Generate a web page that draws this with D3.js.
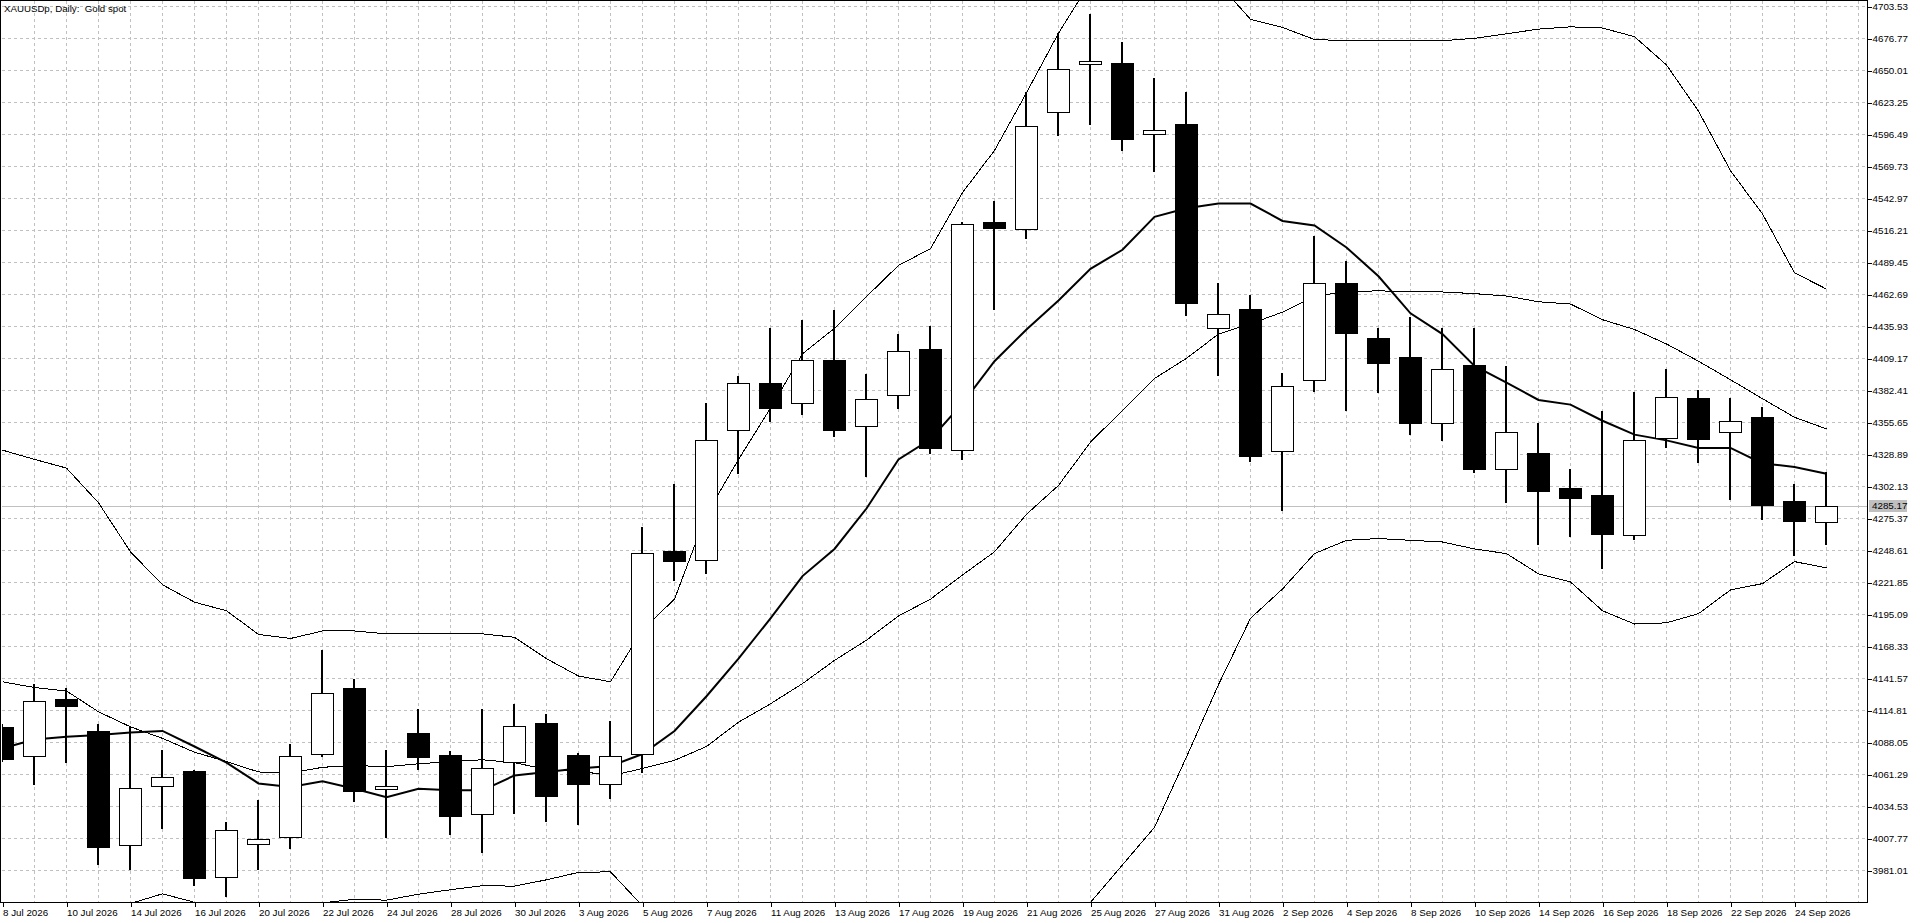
<!DOCTYPE html>
<html>
<head>
<meta charset="utf-8">
<script src="https://cdn.jsdelivr.net/npm/d3@7"></script>
<style>
  html, body { margin: 0; padding: 0; background: #ffffff; }
  svg { display: block; }
  text { font-family: "Liberation Sans", Arial, sans-serif; fill: #000; }
</style>
</head>
<body>
<svg id="chart" width="1920" height="923"></svg>
<script>
// ---------------- data ----------------
const title = "XAUUSDp, Daily:  Gold spot";

const dates = [
  "8 Jul 2026","9 Jul 2026","10 Jul 2026","13 Jul 2026","14 Jul 2026","15 Jul 2026","16 Jul 2026","17 Jul 2026",
  "20 Jul 2026","21 Jul 2026","22 Jul 2026","23 Jul 2026","24 Jul 2026","27 Jul 2026","28 Jul 2026","29 Jul 2026",
  "30 Jul 2026","31 Jul 2026","3 Aug 2026","4 Aug 2026","5 Aug 2026","6 Aug 2026","7 Aug 2026","10 Aug 2026",
  "11 Aug 2026","12 Aug 2026","13 Aug 2026","14 Aug 2026","17 Aug 2026","18 Aug 2026","19 Aug 2026","20 Aug 2026",
  "21 Aug 2026","24 Aug 2026","25 Aug 2026","26 Aug 2026","27 Aug 2026","28 Aug 2026","31 Aug 2026","1 Sep 2026",
  "2 Sep 2026","3 Sep 2026","4 Sep 2026","7 Sep 2026","8 Sep 2026","9 Sep 2026","10 Sep 2026","11 Sep 2026",
  "14 Sep 2026","15 Sep 2026","16 Sep 2026","17 Sep 2026","18 Sep 2026","21 Sep 2026","22 Sep 2026","23 Sep 2026",
  "24 Sep 2026","25 Sep 2026"
];

const open = [
  4100.7,4075.6,4123.9,4096.9,4002.7,4051.4,4064.0,3975.2,4002.7,4008.0,
  4078.0,4133.6,4048.5,4095.4,4077.5,4027.8,4070.8,4104.1,4077.5,4052.4,
  4078.0,4247.5,4240.3,4349.0,4388.1,4371.7,4407.4,4352.3,4378.0,4416.6,
  4332.1,4523.3,4517.1,4614.6,4654.3,4655.7,4596.3,4604.5,4434.5,4449.9,
  4331.6,4391.0,4471.7,4425.8,4409.8,4354.8,4403.5,4316.6,4329.6,4300.2,
  4294.4,4260.6,4342.2,4375.5,4347.5,4360.1,4290.0,4272.2
];
const high = [
  4103.0,4136.9,4133.6,4103.1,4101.7,4081.4,4065.0,4021.4,4039.9,4086.6,
  4165.0,4140.8,4081.4,4115.7,4080.4,4115.7,4119.5,4111.3,4078.5,4106.0,
  4267.8,4304.0,4371.2,4393.9,4434.5,4441.2,4449.0,4395.8,4429.2,4435.9,
  4523.3,4540.7,4632.0,4680.8,4696.8,4673.6,4643.1,4631.5,4471.7,4461.5,
  4396.8,4510.8,4490.5,4434.5,4443.6,4434.0,4434.5,4402.1,4355.2,4316.6,
  4364.9,4380.4,4400.2,4382.8,4376.0,4368.3,4303.6,4313.7
];
const low = [
  4071.0,4052.4,4070.8,3984.8,3981.4,4015.2,3967.4,3958.2,3981.4,3998.3,
  4075.6,4037.9,4008.0,4064.5,4009.9,3995.4,4027.8,4021.0,4018.6,4040.4,
  4062.5,4222.9,4228.2,4312.3,4355.7,4361.5,4342.7,4309.4,4366.4,4328.7,
  4323.9,4449.0,4508.9,4594.8,4604.0,4582.3,4564.4,4444.1,4394.4,4321.9,
  4281.4,4380.4,4364.9,4379.9,4345.1,4339.8,4313.2,4288.1,4252.9,4259.1,
  4233.1,4256.7,4333.5,4321.4,4290.5,4273.6,4243.2,4252.9
];
const close = [
  4074.2,4122.0,4118.1,3999.8,4050.0,4058.7,3974.7,4014.2,4006.6,4076.1,
  4128.7,4047.6,4051.4,4075.6,4026.8,4065.9,4101.2,4042.8,4053.4,4076.1,
  4246.1,4238.8,4340.8,4388.1,4367.3,4407.4,4349.0,4374.6,4415.1,4333.5,
  4521.4,4518.5,4603.5,4650.9,4657.2,4592.4,4599.7,4455.2,4446.1,4327.2,
  4385.7,4471.7,4429.6,4404.5,4354.3,4400.2,4316.6,4347.5,4297.8,4292.0,
  4262.0,4340.3,4376.5,4341.3,4356.7,4286.2,4273.6,4285.17
];

// thick moving average
const maLine = [
  4082.8,4090.1,4092.5,4094.0,4095.9,4097.3,4084.3,4070.8,4053.4,4050.5,
  4055.3,4049.0,4041.8,4049.0,4047.6,4047.6,4060.1,4063.0,4065.9,4067.9,
  4078.0,4097.3,4126.3,4157.7,4191.5,4226.8,4249.5,4283.3,4324.3,4341.2,
  4371.2,4406.5,4433.0,4457.2,4483.7,4499.7,4527.2,4534.4,4538.3,4538.3,
  4523.8,4520.0,4501.6,4477.5,4446.5,4429.2,4402.6,4388.6,4374.1,4370.2,
  4356.7,4345.1,4340.3,4334.0,4334.0,4321.0,4318.1,4312.3
];
// Bollinger bands
const bbUpper = [
  4332.1,4324.4,4317.1,4288.1,4247.1,4219.5,4205.0,4197.8,4178.0,4174.6,
  4180.9,4180.9,4178.5,4179.0,4178.5,4178.5,4175.6,4157.7,4143.2,4138.4,
  4181.9,4207.5,4278.5,4324.3,4367.3,4412.7,4434.0,4460.5,4486.6,4500.6,
  4547.5,4582.7,4631.0,4680.8,4723.7,4745.5,4767.3,4742.2,4722.4,4692.4,
  4685.6,4675.5,4674.5,4674.5,4674.5,4674.5,4676.5,4680.3,4684.2,4686.1,
  4685.1,4677.9,4654.2,4615.6,4565.8,4529.6,4480.4,4466.8
];
const bbMiddle = [
  4138.4,4133.6,4130.7,4113.3,4100.7,4091.1,4079.5,4071.7,4063.0,4062.1,
  4066.9,4068.4,4067.4,4069.8,4071.7,4073.2,4070.8,4065.0,4064.0,4059.7,
  4065.9,4072.7,4084.3,4104.6,4120.0,4136.9,4156.3,4173.2,4193.5,4207.5,
  4227.7,4247.1,4278.5,4302.6,4338.8,4365.4,4392.0,4408.9,4429.2,4437.8,
  4447.5,4461.0,4464.4,4465.4,4464.4,4464.4,4463.0,4461.0,4456.2,4454.3,
  4441.2,4433.0,4420.9,4406.5,4391.0,4375.1,4359.6,4349.9
];
const bbLower = [
  3944.7,3942.8,3944.3,3938.5,3953.0,3961.1,3954.0,3945.6,3948.0,3949.6,
  3953.5,3956.5,3955.8,3960.8,3964.5,3967.9,3967.5,3972.8,3979.0,3979.5,
  3951.0,3937.9,3890.1,3884.9,3872.7,3861.1,3878.6,3885.9,3900.4,3914.4,
  3907.9,3911.5,3926.0,3924.4,3953.9,3985.3,4016.7,4075.6,4136.0,4191.5,
  4216.0,4245.6,4256.7,4258.2,4256.7,4255.3,4249.5,4245.6,4228.7,4221.9,
  4197.8,4186.7,4187.7,4195.4,4215.2,4220.5,4238.9,4233.6
];

const priceTicks = [
  4703.53,4676.77,4650.01,4623.25,4596.49,4569.73,4542.97,4516.21,4489.45,4462.69,
  4435.93,4409.17,4382.41,4355.65,4328.89,4302.13,4275.37,4248.61,4221.85,4195.09,
  4168.33,4141.57,4114.81,4088.05,4061.29,4034.53,4007.77,3981.01
];
const lastPrice = 4285.17;

// ---------------- layout ----------------
const plotL = 2, plotT = 1, plotR = 1867, plotB = 902;
const svg = d3.select("#chart");

const y = d3.scaleLinear().domain([3981.01, 4703.53]).range([870, 6]);
const x = d3.scaleLinear().domain([0, 58]).range([2, 1858]);

const defs = svg.append("defs");
defs.append("clipPath").attr("id", "plotClip")
  .append("rect").attr("x", plotL).attr("y", plotT)
  .attr("width", plotR - plotL).attr("height", plotB - plotT);

svg.append("rect").attr("x", 0).attr("y", 0).attr("width", 1920).attr("height", 923).attr("fill", "#fff");

const plot = svg.append("g").attr("clip-path", "url(#plotClip)");

// grid
const gridColor = "#c0c0c0";
plot.append("g").selectAll("line").data(priceTicks).join("line")
  .attr("x1", plotL).attr("x2", plotR)
  .attr("y1", d => Math.round(y(d)) + 0.5).attr("y2", d => Math.round(y(d)) + 0.5)
  .attr("stroke", gridColor).attr("stroke-width", 1).attr("stroke-dasharray", "3,3")
  .attr("shape-rendering", "crispEdges");

plot.append("g").selectAll("line").data(d3.range(1, 59)).join("line")
  .attr("x1", d => Math.round(x(d)) + 0.5).attr("x2", d => Math.round(x(d)) + 0.5)
  .attr("y1", plotT).attr("y2", plotB)
  .attr("stroke", gridColor).attr("stroke-width", 1).attr("stroke-dasharray", "3,3")
  .attr("shape-rendering", "crispEdges");

// last price line
plot.append("line")
  .attr("x1", plotL).attr("x2", plotR)
  .attr("y1", Math.round(y(lastPrice)) + 0.5).attr("y2", Math.round(y(lastPrice)) + 0.5)
  .attr("stroke", "#c0c0c0").attr("stroke-width", 1).attr("shape-rendering", "crispEdges");

// indicator lines
const lineGen = arr => d3.line().x((d, i) => x(i) + 0.5).y(d => y(d))(arr);
[bbUpper, bbMiddle, bbLower].forEach(arr => {
  plot.append("path").attr("d", lineGen(arr))
    .attr("fill", "none").attr("stroke", "#000").attr("stroke-width", 1)
    .attr("shape-rendering", "crispEdges");
});
plot.append("path").attr("d", lineGen(maLine))
  .attr("fill", "none").attr("stroke", "#000").attr("stroke-width", 2);

// candles
const idx = d3.range(open.length);
const candles = plot.append("g");
candles.selectAll("line.wick").data(idx).join("line").attr("class", "wick")
  .attr("x1", i => x(i)).attr("x2", i => x(i))
  .attr("y1", i => y(high[i])).attr("y2", i => y(low[i]))
  .attr("stroke", "#000").attr("stroke-width", 2).attr("shape-rendering", "crispEdges");
candles.selectAll("rect.body").data(idx).join("rect").attr("class", "body")
  .attr("x", i => x(i) - 11 + 0.5)
  .attr("y", i => Math.round(y(Math.max(open[i], close[i]))) + 0.5)
  .attr("width", 22)
  .attr("height", i => Math.max(1, Math.round(Math.abs(y(open[i]) - y(close[i])))))
  .attr("fill", i => close[i] < open[i] ? "#000" : "#fff")
  .attr("stroke", "#000").attr("stroke-width", 1).attr("shape-rendering", "crispEdges");

// frame
svg.append("rect").attr("x", 0.5).attr("y", 0.5)
  .attr("width", plotR - 0.5).attr("height", plotB - 0.5)
  .attr("fill", "none").attr("stroke", "#000").attr("stroke-width", 1)
  .attr("shape-rendering", "crispEdges");

// right axis
const yAxis = d3.axisRight(y).tickValues(priceTicks).tickFormat(d3.format(".2f"))
  .tickSize(4).tickPadding(1);
const ya = svg.append("g").attr("transform", `translate(${plotR + 0.5},0.5)`).call(yAxis);
ya.select(".domain").remove();
ya.selectAll("line").attr("stroke", "#000").attr("shape-rendering", "crispEdges");
ya.selectAll("text").attr("font-family", "\"Liberation Sans\", Arial, sans-serif")
  .attr("font-size", 9.8).attr("fill", "#000");

// last price label
const lpY = Math.round(y(lastPrice));
svg.append("rect").attr("x", 1869).attr("y", lpY - 6).attr("width", 38).attr("height", 12)
  .attr("fill", "#c0c0c0");
svg.append("text").attr("x", 1872).attr("y", lpY).attr("dy", "0.35em")
  .attr("font-size", 9.8).attr("fill", "#fff").text(d3.format(".2f")(lastPrice));

// bottom axis
const xAxis = d3.axisBottom(x).tickValues(idx.filter(i => i % 2 === 0))
  .tickFormat(i => dates[i]).tickSize(4).tickPadding(3);
const xa = svg.append("g").attr("transform", `translate(0.5,${plotB + 0.5})`).call(xAxis);
xa.select(".domain").remove();
xa.selectAll("line").attr("stroke", "#000").attr("shape-rendering", "crispEdges");
xa.selectAll("text").attr("text-anchor", "start").attr("dx", 0)
  .attr("x", 0).attr("font-family", "\"Liberation Sans\", Arial, sans-serif")
  .attr("font-size", 9.8).attr("fill", "#000");

// title
svg.append("text").attr("x", 4).attr("y", 12)
  .attr("font-size", 9.7).style("white-space", "pre").text(title);
</script>
</body>
</html>
